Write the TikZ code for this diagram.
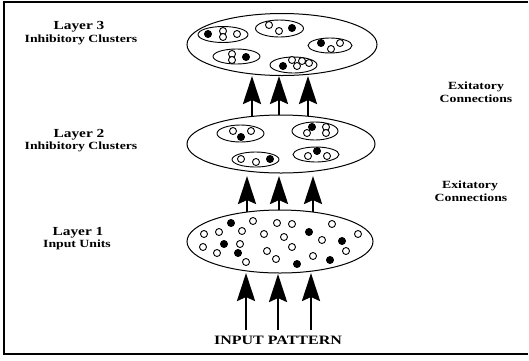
\documentclass[tikz,border=0pt]{standalone}
\usepackage{fontspec}
\setmainfont{Liberation Serif}[FakeStretch=1.25]
\usetikzlibrary{arrows.meta,shapes.geometric}
\begin{document}
\begin{tikzpicture}[x=1pt,y=-1pt,
  layer/.style={draw, ellipse, line width=1pt, fill=white, inner sep=0pt},
  cluster/.style={draw, ellipse, line width=0.9pt, inner sep=0pt},
  od/.style={circle, draw, line width=0.9pt, minimum size=7pt, inner sep=0pt, fill=white},
  fd/.style={circle, draw, line width=0.9pt, fill=black, minimum size=7pt, inner sep=0pt},
  bigarrow/.style={line width=2.8pt, -{Stealth[length=28pt,width=18pt,inset=4pt]}},
  lab/.style={font=\bfseries\fontsize{11}{12}\selectfont, inner sep=0pt},
  labbig/.style={font=\bfseries\fontsize{12.3}{13}\selectfont, inner sep=0pt}]
\useasboundingbox (0,0) rectangle (529,360);
% frame
\draw[line width=1.3pt] (528,2) -- (4,2) -- (4,354) -- (528,354);
\draw[line width=1.8pt] (4,2) -- (4,354);

% arrow end points
\coordinate (s1) at (252,118); \coordinate (t1) at (252,76);
\coordinate (s2) at (279,117); \coordinate (t2) at (279,76);
\coordinate (s3) at (308,118); \coordinate (t3) at (308,76);
\coordinate (s4) at (247,214); \coordinate (t4) at (247,176);
\coordinate (s5) at (279,213); \coordinate (t5) at (279,176);
\coordinate (s6) at (313,214); \coordinate (t6) at (313,176);
\coordinate (s7) at (246,330); \coordinate (t7) at (246,273);
\coordinate (s8) at (278,330); \coordinate (t8) at (278,274);
\coordinate (s9) at (311,330); \coordinate (t9) at (311,273);
\foreach \i in {1,...,9} \draw[bigarrow] (s\i) -- (t\i);

% layers
\node[layer, minimum width=190pt, minimum height=62pt] (L3) at (282,44.5) {};
\node[layer, minimum width=188pt, minimum height=58pt] (L2) at (281,144) {};
\node[layer, minimum width=186pt, minimum height=63pt] (L1) at (280,241.5) {};

% clusters layer 3
\node[cluster, minimum width=50pt, minimum height=16pt] (cA) at (223,34.5) {};
\node[cluster, minimum width=48pt, minimum height=17pt] (cB) at (279.5,28.5) {};
\node[cluster, minimum width=44pt, minimum height=15pt] (cC) at (330,45.5) {};
\node[cluster, minimum width=47pt, minimum height=15pt] (cD) at (236.5,56.5) {};
\node[cluster, minimum width=47pt, minimum height=16pt] (cE) at (293.5,65) {};
% clusters layer 2
\node[cluster, minimum width=47pt, minimum height=17pt] (cF) at (240.5,133.5) {};
\node[cluster, minimum width=46pt, minimum height=18pt] (cG) at (315,131) {};
\node[cluster, minimum width=47pt, minimum height=15pt] (cH) at (255.5,159.5) {};
\node[cluster, minimum width=46pt, minimum height=15pt] (cI) at (316,154.5) {};

% open dots
\foreach \x/\y [count=\i] in {
  223/31, 223/37, 237/34,
  269/25, 279/31,
  331/49, 340/43,
  232/54, 232/60,
  292/60, 297/66, 302/61, 309/63,
  233/131, 251/131,
  326/127, 326/133, 307/133,
  241/159, 256/162,
  308/156, 327/156,
  253/221, 277/223, 292/224, 332/224, 204/234, 219/232, 242/231, 264/234,
  284/237, 322/240, 358/234, 203/247, 240/244, 267/251, 292/247, 346/251,
  217/253, 246/262, 276/259, 313/256}
  \node[od] (o\i) at (\x,\y) {};
% filled dots
\foreach \x/\y [count=\i] in {
  208/34, 292/28, 321/43, 246/57, 283/66,
  241/137, 312/127, 270/159, 317/151,
  231/223, 309/232, 342/241, 224/244, 238/253, 297/264, 330/260}
  \node[fd] (f\i) at (\x,\y) {};

% labels
\node[labbig] (l3a) at (79,27) {Layer 3};
\node[lab] (l3b) at (81,40) {Inhibitory Clusters};
\node[labbig] (l2a) at (79,135) {Layer 2};
\node[lab] (l2b) at (81,147) {Inhibitory Clusters};
\node[labbig] (l1a) at (78,233) {Layer 1};
\node[lab] (l1b) at (77,245) {Input Units};
\node[lab] (e1a) at (476,87) {Exitatory};
\node[lab] (e1b) at (476,98.5) {Connections};
\node[lab] (e2a) at (470,186) {Exitatory};
\node[lab] (e2b) at (471,197.5) {Connections};
\node[font=\bfseries\fontsize{12.8}{14}\selectfont, inner sep=0pt] (inp) at (278,340) {INPUT PATTERN};
\end{tikzpicture}
\end{document}
